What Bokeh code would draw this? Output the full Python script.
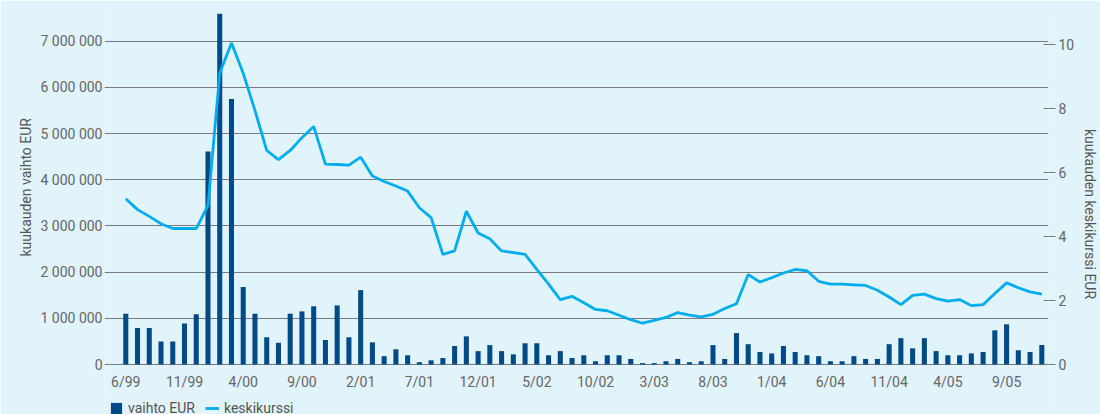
from bokeh.plotting import figure
from bokeh.models import Range1d, LinearAxis, FixedTicker, Legend, LegendItem, Title, Grid
from bokeh.embed import file_html
from bokeh.resources import INLINE

# monthly data 6/99 .. 12/05
vaihto = [1.10, 0.79, 0.79, 0.50, 0.50, 0.89, 1.09, 4.61, 7.60, 5.75,
          1.68, 1.10, 0.59, 0.47, 1.10, 1.15, 1.26, 0.53, 1.28, 0.59,
          1.61, 0.48, 0.18, 0.33, 0.20, 0.05, 0.09, 0.14, 0.40, 0.61,
          0.29, 0.42, 0.29, 0.22, 0.46, 0.46, 0.20, 0.29, 0.14, 0.20,
          0.07, 0.20, 0.20, 0.12, 0.03, 0.03, 0.07, 0.12, 0.05, 0.07,
          0.42, 0.12, 0.68, 0.44, 0.27, 0.24, 0.40, 0.27, 0.20, 0.18,
          0.07, 0.07, 0.18, 0.12, 0.12, 0.44, 0.57, 0.35, 0.57, 0.29,
          0.20, 0.20, 0.24, 0.27, 0.74, 0.87, 0.31, 0.27, 0.42]
vaihto_eur = [v * 1e6 for v in vaihto]

keskikurssi = [5.18, 4.84, 4.63, 4.40, 4.25, 4.25, 4.25, 4.97, 9.10, 10.05,
               9.10, 7.94, 6.69, 6.40, 6.69, 7.09, 7.44, 6.26, 6.25, 6.23,
               6.48, 5.89, 5.72, 5.58, 5.42, 4.90, 4.59, 3.44, 3.55, 4.79,
               4.11, 3.93, 3.55, 3.50, 3.44, 2.97, 2.51, 2.03, 2.13, 1.93,
               1.72, 1.68, 1.54, 1.40, 1.29, 1.38, 1.47, 1.62, 1.54, 1.49,
               1.57, 1.75, 1.90, 2.81, 2.58, 2.71, 2.86, 2.97, 2.93, 2.60,
               2.51, 2.51, 2.49, 2.47, 2.32, 2.11, 1.87, 2.16, 2.20, 2.06,
               1.98, 2.03, 1.84, 1.87, 2.22, 2.55, 2.40, 2.27, 2.20]

x_tick_labels = ["6/99", "11/99", "4/00", "9/00", "2/01", "7/01", "12/01", "5/02",
                 "10/02", "3/03", "8/03", "1/04", "6/04", "11/04", "4/05", "9/05"]
left_tick_labels = ["0", "1 000 000", "2 000 000", "3 000 000", "4 000 000",
                    "5 000 000", "6 000 000", "7 000 000"]
right_ticks = [0, 2, 4, 6, 8, 10]

BG = "#e1f3fb"
BAR = "#004b87"
LINE = "#00aeef"
GRID = "#7a7a7a"
TXT = "#666666"
LBL = "#555555"
FONT = "Roboto"

LEFT_TOP = 7.6e6
RIGHT_TOP = 10.97
PLOT_PX = 351.0      # pixels from zero line to top line
BELOW_PX = 50.0      # pixels below the zero line kept inside the frame (tick labels, legend)
X0, X1 = -0.79, 78.57          # extent of the gridded area
X_START = -1.812               # frame starts a little left so the first tick label fits

x = list(range(len(vaihto)))
NAN = float("nan")

p = figure(frame_width=944, frame_height=int(PLOT_PX + BELOW_PX),
           output_backend="svg", toolbar_location=None,
           x_range=Range1d(X_START, X1),
           y_range=Range1d(-LEFT_TOP * BELOW_PX / PLOT_PX, LEFT_TOP),
           min_border_left=104, min_border_right=36, min_border_top=13,
           min_border_bottom=0)
p.background_fill_color = BG
p.border_fill_color = BG
p.outline_line_color = None

p.extra_y_ranges = {"right": Range1d(-RIGHT_TOP * BELOW_PX / PLOT_PX, RIGHT_TOP)}

bars = p.vbar(x=x, top=vaihto_eur, width=0.43, color=BAR, line_color=None)
line = p.line(x=x, y=keskikurssi, y_range_name="right", color=LINE, line_width=2.8)
# invisible proxy (NaN) so the legend shows a square swatch
bar_key = p.quad(left=[NAN], right=[NAN], top=[NAN], bottom=[NAN], color=BAR, line_color=None)

# x axis, drawn at the zero line
xa = p.xaxis[0]
xa.fixed_location = 0
xa.ticker = FixedTicker(ticks=[i * 5 for i in range(len(x_tick_labels))])
xa.major_label_overrides = {i * 5: s for i, s in enumerate(x_tick_labels)}
xa.axis_line_color = None
xa.major_tick_line_color = None
xa.minor_tick_line_color = None
xa.major_tick_in = 0
xa.major_tick_out = 0
xa.major_label_standoff = 9
xa.major_label_text_font = FONT
xa.major_label_text_font_size = "14px"
xa.major_label_text_color = TXT
p.xgrid.grid_line_color = None

# left axis
ya = p.yaxis[0]
lticks = [i * 1e6 for i in range(len(left_tick_labels))]
ya.ticker = FixedTicker(ticks=lticks)
ya.major_label_overrides = {t: s for t, s in zip(lticks, left_tick_labels)}
ya.axis_line_color = None
ya.major_tick_line_color = None
ya.major_tick_in = 0
ya.major_tick_out = 0
ya.minor_tick_line_color = None
ya.major_label_standoff = 2
ya.major_label_text_font = FONT
ya.major_label_text_font_size = "14px"
ya.major_label_text_color = TXT

p.ygrid.ticker = FixedTicker(ticks=lticks)
p.ygrid.grid_line_color = GRID
p.ygrid.grid_line_width = 1
p.ygrid.bounds = (X0, X1)

# lighter top line
top_grid = Grid(dimension=1, ticker=FixedTicker(ticks=[LEFT_TOP]), bounds=(X0, X1),
                grid_line_color="#a7afb2", grid_line_width=2)
p.add_layout(top_grid)

# right axis
ra = LinearAxis(y_range_name="right", ticker=FixedTicker(ticks=right_ticks))
ra.axis_line_color = None
ra.major_tick_line_color = GRID
ra.major_tick_in = 5
ra.major_tick_out = 7
ra.minor_tick_line_color = None
ra.major_label_standoff = 3
ra.major_label_text_font = FONT
ra.major_label_text_font_size = "14px"
ra.major_label_text_color = TXT
p.add_layout(ra, "right")

# left axis title (kept centred on the data area)
lt = Title(text="kuukauden vaihto EUR", align="left", offset=158,
           text_font=FONT, text_font_size="14px", text_font_style="normal",
           text_color=LBL, standoff=8)
p.add_layout(lt, "left")

# right axis title, reading bottom to top
RLABEL = "kuukauden keskikurssi EUR"
try:
    ra.axis_label_orientation = "vertical"
    ra.axis_label = RLABEL
    ra.axis_label_text_font = FONT
    ra.axis_label_text_font_size = "14px"
    ra.axis_label_text_font_style = "normal"
    ra.axis_label_text_color = LBL
    ra.axis_label_standoff = 5
except Exception:
    rt = Title(text=RLABEL, align="left", offset=95,
               text_font=FONT, text_font_size="14px", text_font_style="normal",
               text_color=LBL, standoff=6)
    p.add_layout(rt, "right")

legend = Legend(items=[LegendItem(label="vaihto EUR", renderers=[bar_key]),
                       LegendItem(label="keskikurssi", renderers=[line])],
                orientation="horizontal", location=(5, -2),
                background_fill_alpha=0, border_line_color=None,
                label_text_font=FONT, label_text_font_size="14px",
                label_text_color=LBL,
                glyph_width=14, glyph_height=14, label_standoff=5,
                spacing=10, padding=0, margin=0, label_height=14)
p.add_layout(legend, "center")

html = file_html(p, INLINE)
html = html.replace("<body>", '<body style="background:%s; overflow:hidden">' % BG, 1)
open("out.html", "w").write(html)
